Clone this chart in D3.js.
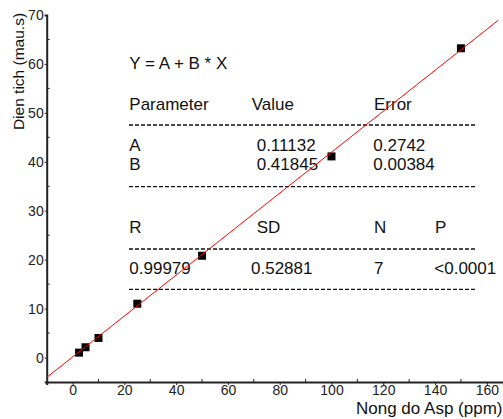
<!DOCTYPE html>
<html><head><meta charset="utf-8">
<script src="https://cdn.jsdelivr.net/npm/d3@7"></script>
<style>body{margin:0;background:#fff}svg{display:block;font-family:"Liberation Sans",Arial,sans-serif}</style>
</head><body>
<svg id="c" width="503" height="419"></svg>
<script>
// Data
const concX = [2.5, 5, 10, 25, 50, 100, 150];
const areaY = [1.0, 2.1, 4.0, 11.0, 20.8, 41.1, 63.2];
const fitA = 0.11132, fitB = 0.41845;
const fitRange = [-10, 164.5];
const xTicks = [0, 20, 40, 60, 80, 100, 120, 140, 160];
const yTicks = [0, 10, 20, 30, 40, 50, 60, 70];
const paramNames = ["A", "B"];
const paramValues = ["0.11132", "0.41845"];
const paramErrors = ["0.2742", "0.00384"];
const statHeaders = ["R", "SD", "N", "P"];
const statValues = ["0.99979", "0.52881", "7", "<0.0001"];

const svg = d3.select("#c");
const x = d3.scaleLinear().domain([-10, 170]).range([46.7, 512.7]);
const y = d3.scaleLinear().domain([-5, 70]).range([382, 15]);

// axes
const gx = svg.append("g").attr("transform", `translate(0,${y(-5)})`)
  .call(d3.axisBottom(x).tickValues(xTicks).tickSize(3).tickPadding(0).tickFormat(d3.format("d")));
const gy = svg.append("g").attr("transform", `translate(${x(-10)},0)`)
  .call(d3.axisLeft(y).tickValues(yTicks).tickSize(2).tickPadding(1).tickFormat(d3.format("d")));
[gx, gy].forEach(g => {
  g.select(".domain").attr("stroke", "#222").attr("stroke-width", 2);
  g.selectAll(".tick line").attr("stroke", "#222");
  g.selectAll(".tick text").attr("fill", "#222").style("font-size", "14px").style("font-family", "'Liberation Sans', Arial, sans-serif");
});
gx.selectAll(".tick text").attr("dy", "0.71em");
// minor ticks inward
const xMinor = d3.range(-10, 171, 20).filter(v => v > -10);
svg.append("g").selectAll("line").data(xMinor).join("line")
  .attr("x1", d => x(d)).attr("x2", d => x(d)).attr("y1", y(-5)).attr("y2", y(-5) - 3)
  .attr("stroke", "#222");
const yMinor = d3.range(-5, 71, 10).filter(v => v > -5);
svg.append("g").selectAll("line").data(yMinor).join("line")
  .attr("x1", x(-10)).attr("x2", x(-10) + 3).attr("y1", d => y(d)).attr("y2", d => y(d))
  .attr("stroke", "#222");

// axis titles
svg.append("text").attr("transform", `translate(24,${(13 + 130) / 2}) rotate(-90)`)
  .attr("text-anchor", "middle").style("font-size", "15.5px").attr("fill", "#111")
  .text("Dien tich (mau.s)");
svg.append("text").attr("x", 356).attr("y", 414)
  .style("font-size", "17px").attr("fill", "#111")
  .text("Nong do Asp (ppm)");

// table
const T = svg.append("g").style("font-size", "17px").attr("fill", "#111");
T.append("text").attr("x", 129.3).attr("y", 69).text("Y = A + B * X");
T.append("text").attr("x", 129.3).attr("y", 110).text("Parameter");
T.append("text").attr("x", 251.7).attr("y", 110).text("Value");
T.append("text").attr("x", 374).attr("y", 110).text("Error");
paramNames.forEach((p, i) => {
  const yy = 151 + i * 19;
  T.append("text").attr("x", 129.3).attr("y", yy).text(p);
  T.append("text").attr("x", 256.7).attr("y", yy).text(paramValues[i]);
  T.append("text").attr("x", 373.3).attr("y", yy).text(paramErrors[i]);
});
const colX = [129.3, 256.7, 374, 435];
statHeaders.forEach((h, i) => T.append("text").attr("x", colX[i]).attr("y", 233.3).text(h));
const colX2 = [129.3, 251, 374, 434.3];
statValues.forEach((v, i) => T.append("text").attr("x", colX2[i]).attr("y", 274.3).text(v));
[125, 186.7, 249, 289.3].forEach(yy => {
  svg.append("line").attr("x1", 129).attr("x2", 475).attr("y1", yy).attr("y2", yy)
    .attr("stroke", "#111").attr("stroke-width", 1.3).attr("stroke-dasharray", "4,2");
});

// points
svg.append("g").selectAll("rect").data(concX).join("rect")
  .attr("x", (d) => x(d) - 4).attr("y", (d, i) => y(areaY[i]) - 4)
  .attr("width", 8).attr("height", 8).attr("fill", "#000");

// fit line
svg.append("line")
  .attr("x1", x(fitRange[0])).attr("y1", y(fitA + fitB * fitRange[0]))
  .attr("x2", x(fitRange[1])).attr("y2", y(fitA + fitB * fitRange[1]))
  .attr("stroke", "#ff0000").attr("stroke-width", 1);
</script>
</body></html>
